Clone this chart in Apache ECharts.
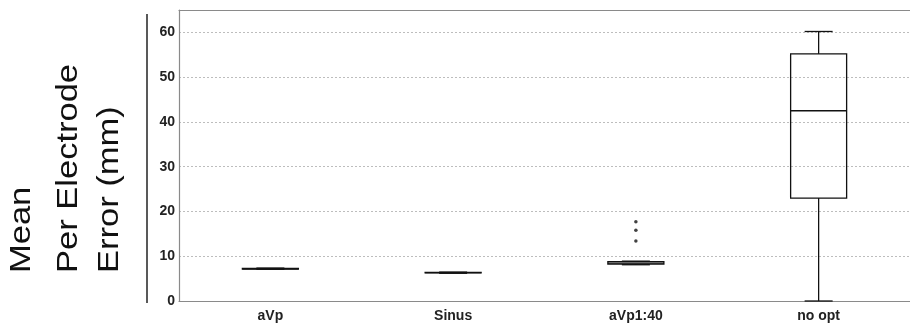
<!DOCTYPE html>
<html>
<head>
<meta charset="utf-8">
<script src="https://cdn.jsdelivr.net/npm/echarts@6/dist/echarts.min.js"></script>
<style>
  html, body { margin: 0; padding: 0; background: #fff; }
  #chart { width: 910px; height: 329px; }
</style>
</head>
<body>
<div id="chart"></div>
<script>
// categories and box stats: [min, q1, median, q3, max]
const categories = ['aVp', 'Sinus', 'aVp1:40', 'no opt']
const boxStats = [
  [7.1, 7.15, 7.2, 7.3, 7.35],
  [6.2, 6.3, 6.35, 6.4, 6.45],
  [8.1, 8.25, 8.45, 8.8, 8.9],
  [0, 23.0, 42.5, 55.2, 60.2],
]
// outliers [category, value]
const outliers = [
  ['aVp1:40', 13.4],
  ['aVp1:40', 15.8],
  ['aVp1:40', 17.7],
]
const yTicks = { min: 0, max: 65, interval: 10 }
const titleLines = ['Mean', 'Per Electrode', 'Error (mm)']

const chart = echarts.init(document.getElementById('chart'))

const labelFont = {
  fontFamily: 'Liberation Sans, Arial, sans-serif',
  fontSize: 14,
  fontWeight: 'bold',
  color: '#222',
}

const BOX_W = 56
const CAP_W = 28
const INK = '#111'

// matlab style box: whisker caps are half the box width
const renderBox = (params, api) => {
  const i = api.value(0)
  const pt = (v) => api.coord([i, v])
  const [cx, yMin] = pt(api.value(1))
  const yQ1 = pt(api.value(2))[1]
  const yMed = pt(api.value(3))[1]
  const yQ3 = pt(api.value(4))[1]
  const yMax = pt(api.value(5))[1]
  const line = (x1, y1, x2, y2) => ({
    type: 'line',
    shape: { x1, y1, x2, y2 },
    style: { stroke: INK, lineWidth: 1.3 },
  })
  return {
    type: 'group',
    children: [
      line(cx, yQ3, cx, yMax),
      line(cx, yQ1, cx, yMin),
      line(cx - CAP_W / 2, yMax, cx + CAP_W / 2, yMax),
      line(cx - CAP_W / 2, yMin, cx + CAP_W / 2, yMin),
      {
        type: 'rect',
        shape: { x: cx - BOX_W / 2, y: yQ3, width: BOX_W, height: yQ1 - yQ3 },
        style: { fill: 'none', stroke: INK, lineWidth: 1.3 },
      },
      line(cx - BOX_W / 2, yMed, cx + BOX_W / 2, yMed),
    ],
  }
}

// rotated y title, three lines, bottom aligned (text stretched a bit to match the original)
const titleX = [37, 84, 125]
const titleGraphics = titleLines.map((t, i) => ({
  type: 'text',
  x: titleX[i],
  y: 273,
  rotation: Math.PI / 2,
  scaleX: 1.15,
  style: {
    text: t,
    fontFamily: 'Liberation Sans, Arial, sans-serif',
    fontSize: 30,
    fill: '#111',
    textAlign: 'left',
    textVerticalAlign: 'bottom',
  },
}))

chart.setOption({
  animation: false,
  backgroundColor: '#fff',
  grid: { left: 179, top: 10, bottom: 28, right: -10 },
  xAxis: [
    {
      type: 'category',
      data: categories,
      boundaryGap: true,
      axisLine: { lineStyle: { color: '#8a8a8a', width: 1.2 } },
      axisTick: { inside: true, alignWithLabel: true, length: 4, lineStyle: { color: '#8a8a8a' } },
      axisLabel: { ...labelFont, margin: 8 },
      splitLine: { show: false },
    },
    {
      type: 'category',
      data: categories,
      position: 'top',
      boundaryGap: true,
      axisLine: { lineStyle: { color: '#8a8a8a', width: 1.2 } },
      axisTick: { inside: true, alignWithLabel: true, length: 4, lineStyle: { color: '#8a8a8a' } },
      axisLabel: { show: false },
    },
  ],
  yAxis: {
    type: 'value',
    min: yTicks.min,
    max: yTicks.max,
    interval: yTicks.interval,
    axisLine: { show: true, lineStyle: { color: '#8a8a8a', width: 1.2 } },
    axisTick: { show: false },
    axisLabel: { ...labelFont, margin: 4, showMaxLabel: false },
    splitLine: { lineStyle: { color: '#bdbdbd', type: [2, 2], width: 1 } },
  },
  graphic: [
    ...titleGraphics,
    {
      type: 'line',
      shape: { x1: 147, y1: 14, x2: 147, y2: 303 },
      style: { stroke: '#222', lineWidth: 1.5 },
    },
  ],
  series: [
    {
      type: 'custom',
      renderItem: renderBox,
      data: boxStats.map((s, i) => [i, ...s]),
      encode: { x: 0, y: [1, 2, 3, 4, 5] },
      z: 3,
    },
    {
      type: 'scatter',
      data: outliers,
      symbol: 'circle',
      symbolSize: 3.5,
      itemStyle: { color: INK },
    },
  ],
})
</script>
</body>
</html>
